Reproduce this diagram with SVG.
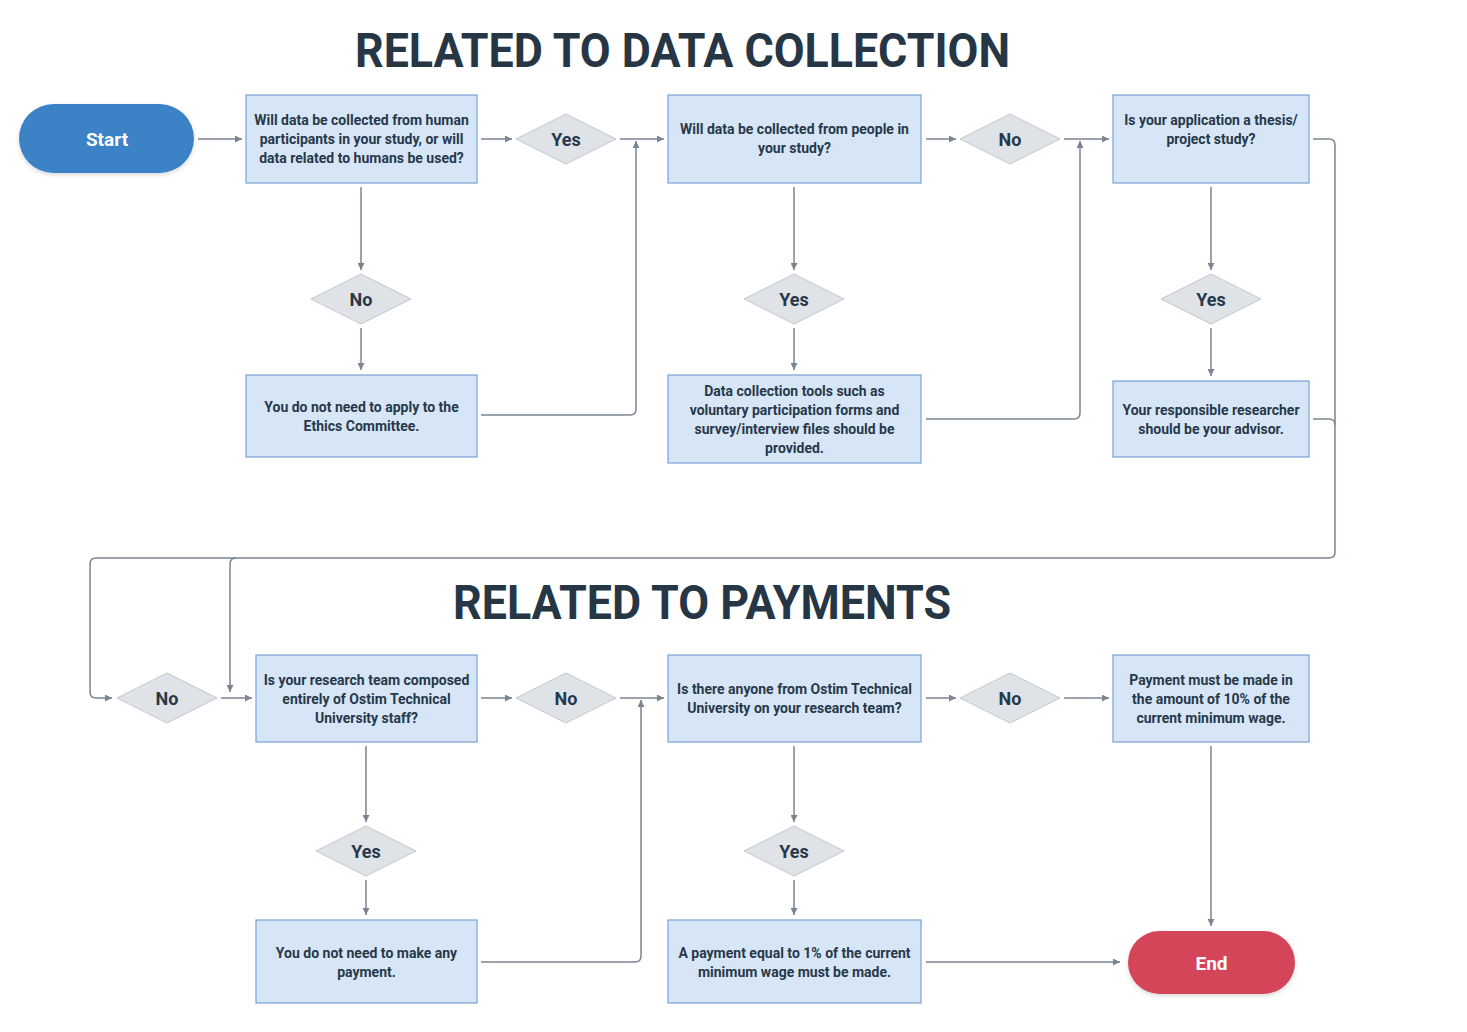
<svg xmlns="http://www.w3.org/2000/svg" width="1467" height="1032" viewBox="0 0 1467 1032">
<defs>
<style>
.box{fill:#d6e6f6;stroke:#77a3d2;stroke-width:1.2}
.dia{fill:#dfe2e7;stroke:#c2c7ce;stroke-width:1}
.t{font-family:Roboto,"DejaVu Sans",sans-serif;font-weight:700;font-size:14px;fill:#27384a;text-anchor:middle}
.dt{font-size:18px}
.title{font-family:Roboto,"DejaVu Sans",sans-serif;font-weight:700;font-size:48px;fill:#263645}
.term{font-family:Roboto,"DejaVu Sans",sans-serif;font-weight:700;font-size:19px;fill:#ffffff;text-anchor:middle}
.conn{fill:none;stroke:#7b8591;stroke-width:1.5}
</style>
<marker id="ah" viewBox="0 0 8 8" refX="8" refY="4" markerWidth="7" markerHeight="7" markerUnits="userSpaceOnUse" orient="auto">
<path d="M0,0 L8,4 L0,8 z" fill="#7b8591"/>
</marker>
<filter id="sh" x="-20%" y="-20%" width="140%" height="150%">
<feDropShadow dx="0" dy="2" stdDeviation="2" flood-color="#000" flood-opacity="0.15"/>
</filter>
</defs>
<rect width="1467" height="1032" fill="#ffffff"/>

<text class="title" x="355" y="67" textLength="655" lengthAdjust="spacingAndGlyphs">RELATED TO DATA COLLECTION</text>
<text class="title" x="453" y="619" textLength="498" lengthAdjust="spacingAndGlyphs">RELATED TO PAYMENTS</text>

<g id="connectors">
<path class="conn" d="M198,139 H242" marker-end="url(#ah)"/>
<path class="conn" d="M481,139 H512" marker-end="url(#ah)"/>
<path class="conn" d="M620,139 H664" marker-end="url(#ah)"/>
<path class="conn" d="M481,415 H630 Q636,415 636,409 V141" marker-end="url(#ah)"/>
<path class="conn" d="M926,139 H956" marker-end="url(#ah)"/>
<path class="conn" d="M1064,139 H1109" marker-end="url(#ah)"/>
<path class="conn" d="M926,419 H1074 Q1080,419 1080,413 V141" marker-end="url(#ah)"/>
<path class="conn" d="M361,187 V270" marker-end="url(#ah)"/>
<path class="conn" d="M361,328 V370" marker-end="url(#ah)"/>
<path class="conn" d="M794,187 V270" marker-end="url(#ah)"/>
<path class="conn" d="M794,328 V370" marker-end="url(#ah)"/>
<path class="conn" d="M1211,187 V270" marker-end="url(#ah)"/>
<path class="conn" d="M1211,328 V376" marker-end="url(#ah)"/>
<path class="conn" d="M1313,139 H1329 Q1335,139 1335,145 V552 Q1335,558 1329,558 H96 Q90,558 90,564 V692 Q90,698 96,698 H112" marker-end="url(#ah)"/>
<path class="conn" d="M1313,419 H1329 Q1335,419 1335,425"/>
<path class="conn" d="M236,558 Q230,558 230,564 V692" marker-end="url(#ah)"/>
<path class="conn" d="M221,698 H252" marker-end="url(#ah)"/>
<path class="conn" d="M481,698 H512" marker-end="url(#ah)"/>
<path class="conn" d="M620,698 H664" marker-end="url(#ah)"/>
<path class="conn" d="M481,962 H635 Q641,962 641,956 V700" marker-end="url(#ah)"/>
<path class="conn" d="M926,698 H956" marker-end="url(#ah)"/>
<path class="conn" d="M1064,698 H1109" marker-end="url(#ah)"/>
<path class="conn" d="M1211,746 V926" marker-end="url(#ah)"/>
<path class="conn" d="M366,746 V822" marker-end="url(#ah)"/>
<path class="conn" d="M366,880 V915" marker-end="url(#ah)"/>
<path class="conn" d="M794,746 V822" marker-end="url(#ah)"/>
<path class="conn" d="M794,880 V915" marker-end="url(#ah)"/>
<path class="conn" d="M926,962 H1120" marker-end="url(#ah)"/>
</g>

<g id="start">
<rect x="19" y="104" width="175" height="69" rx="34.5" fill="#3b82c6" filter="url(#sh)"/>
<text class="term" x="107" y="145.5">Start</text>
</g>

<g id="q1">
<rect class="box" x="246" y="95" width="231" height="88"/>
<text class="t" x="361.5" y="125">Will data be collected from human</text>
<text class="t" x="361.5" y="144">participants in your study, or will</text>
<text class="t" x="361.5" y="163">data related to humans be used?</text>
</g>

<g id="d-yes1">
<polygon class="dia" points="516,139 566,114 616,139 566,164"/>
<text class="t dt" x="566" y="145.5">Yes</text>
</g>

<g id="q2">
<rect class="box" x="668" y="95" width="253" height="88"/>
<text class="t" x="794.5" y="134">Will data be collected from people in</text>
<text class="t" x="794.5" y="153">your study?</text>
</g>

<g id="d-no1">
<polygon class="dia" points="960,139 1010,114 1060,139 1010,164"/>
<text class="t dt" x="1010" y="145.5">No</text>
</g>

<g id="q3">
<rect class="box" x="1113" y="95" width="196" height="88"/>
<text class="t" x="1211" y="125">Is your application a thesis/</text>
<text class="t" x="1211" y="144">project study?</text>
</g>

<g id="d-no2">
<polygon class="dia" points="311,299 361,274 411,299 361,324"/>
<text class="t dt" x="361" y="305.5">No</text>
</g>

<g id="r-noethics">
<rect class="box" x="246" y="375" width="231" height="82"/>
<text class="t" x="361.5" y="412">You do not need to apply to the</text>
<text class="t" x="361.5" y="431">Ethics Committee.</text>
</g>

<g id="d-yes2">
<polygon class="dia" points="744,299 794,274 844,299 794,324"/>
<text class="t dt" x="794" y="305.5">Yes</text>
</g>

<g id="r-tools">
<rect class="box" x="668" y="375" width="253" height="88"/>
<text class="t" x="794.5" y="396">Data collection tools such as</text>
<text class="t" x="794.5" y="415">voluntary participation forms and</text>
<text class="t" x="794.5" y="434">survey/interview files should be</text>
<text class="t" x="794.5" y="453">provided.</text>
</g>

<g id="d-yes3">
<polygon class="dia" points="1161,299 1211,274 1261,299 1211,324"/>
<text class="t dt" x="1211" y="305.5">Yes</text>
</g>

<g id="r-advisor">
<rect class="box" x="1113" y="381" width="196" height="76"/>
<text class="t" x="1211" y="415">Your responsible researcher</text>
<text class="t" x="1211" y="434">should be your advisor.</text>
</g>

<g id="d-no3">
<polygon class="dia" points="117,698 167,673 217,698 167,723"/>
<text class="t dt" x="167" y="704.5">No</text>
</g>

<g id="q4">
<rect class="box" x="256" y="655" width="221" height="87"/>
<text class="t" x="366.5" y="685">Is your research team composed</text>
<text class="t" x="366.5" y="704">entirely of Ostim Technical</text>
<text class="t" x="366.5" y="723">University staff?</text>
</g>

<g id="d-no4">
<polygon class="dia" points="516,698 566,673 616,698 566,723"/>
<text class="t dt" x="566" y="704.5">No</text>
</g>

<g id="q5">
<rect class="box" x="668" y="655" width="253" height="87"/>
<text class="t" x="794.5" y="694">Is there anyone from Ostim Technical</text>
<text class="t" x="794.5" y="713">University on your research team?</text>
</g>

<g id="d-no5">
<polygon class="dia" points="960,698 1010,673 1060,698 1010,723"/>
<text class="t dt" x="1010" y="704.5">No</text>
</g>

<g id="r-10pct">
<rect class="box" x="1113" y="655" width="196" height="87"/>
<text class="t" x="1211" y="685">Payment must be made in</text>
<text class="t" x="1211" y="704">the amount of 10% of the</text>
<text class="t" x="1211" y="723">current minimum wage.</text>
</g>

<g id="d-yes4">
<polygon class="dia" points="316,851 366,826 416,851 366,876"/>
<text class="t dt" x="366" y="857.5">Yes</text>
</g>

<g id="r-nopay">
<rect class="box" x="256" y="920" width="221" height="83"/>
<text class="t" x="366.5" y="958">You do not need to make any</text>
<text class="t" x="366.5" y="977">payment.</text>
</g>

<g id="d-yes5">
<polygon class="dia" points="744,851 794,826 844,851 794,876"/>
<text class="t dt" x="794" y="857.5">Yes</text>
</g>

<g id="r-1pct">
<rect class="box" x="668" y="920" width="253" height="83"/>
<text class="t" x="794.5" y="958">A payment equal to 1% of the current</text>
<text class="t" x="794.5" y="977">minimum wage must be made.</text>
</g>

<g id="end">
<rect x="1128" y="931" width="167" height="63" rx="31.5" fill="#d4445a" filter="url(#sh)"/>
<text class="term" x="1211.5" y="969.5">End</text>
</g>
</svg>
